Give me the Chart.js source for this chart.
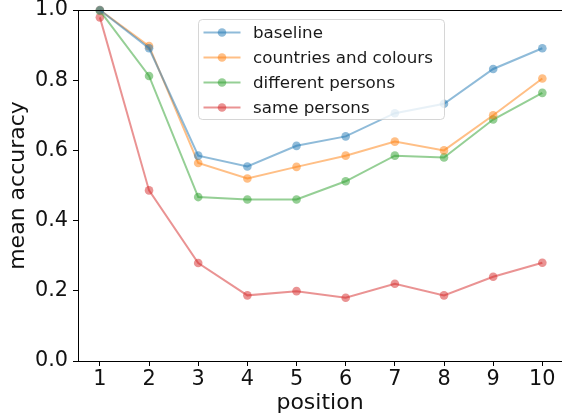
<!DOCTYPE html>
<html>
<head>
<meta charset="utf-8">
<script src="https://cdn.jsdelivr.net/npm/chart.js@4/dist/chart.umd.min.js"></script>
<style>
html,body{margin:0;padding:0;overflow:hidden;background:#fff;}
#wrap{width:562px;height:416px;position:relative;}
canvas{display:block;}
</style>
</head>
<body>
<div id="wrap"><canvas id="c" width="562" height="416"></canvas></div>
<script>
const positions = [1,2,3,4,5,6,7,8,9,10];
const seriesNames = ["baseline","countries and colours","different persons","same persons"];
const baseline = [1.0,0.891,0.585,0.554,0.613,0.640,0.706,0.733,0.832,0.891];
const countriesColours = [1.0,0.897,0.564,0.520,0.553,0.585,0.625,0.600,0.700,0.805];
const differentPersons = [0.998,0.812,0.467,0.460,0.460,0.512,0.585,0.580,0.688,0.764];
const samePersons = [0.979,0.486,0.279,0.187,0.199,0.180,0.220,0.187,0.240,0.280];
const yTicks = [0.0,0.2,0.4,0.6,0.8,1.0];
const colors = ["rgba(31,119,180,0.5)","rgba(255,127,14,0.5)","rgba(44,160,44,0.5)","rgba(214,39,40,0.5)"];

const FONT = "'DejaVu Sans', sans-serif";
const allSeries = [baseline,countriesColours,differentPersons,samePersons];
const datasets = allSeries.map((s,i)=>({
  label: seriesNames[i],
  data: positions.map((p,j)=>({x:p,y:s[j]})),
  borderColor: colors[i],
  backgroundColor: colors[i],
  pointBackgroundColor: colors[i],
  pointBorderColor: colors[i],
  pointBorderWidth: 0,
  pointRadius: 4.3,
  borderWidth: 2,
  tension: 0,
  clip: false
}));

const legendPlugin = {
  id:'mplLegend',
  afterDraw(chart){
    const ctx = chart.ctx;
    ctx.save();
    const ca = chart.chartArea;
    // hide anything along the right edge, then draw the top spine
    ctx.fillStyle = '#fff';
    ctx.fillRect(ca.right - 2, ca.top + 1, 2, ca.bottom - ca.top - 2);
    ctx.fillStyle = '#000';
    ctx.fillRect(ca.left, Math.round(ca.top), ca.right - ca.left, 1);
    const x0=198.5,y0=19.5,w=246,h=100,r=4;
    ctx.fillStyle='rgba(255,255,255,0.8)';
    ctx.strokeStyle='rgba(204,204,204,0.8)';
    ctx.lineWidth=1;
    ctx.beginPath();
    ctx.moveTo(x0+r,y0);ctx.lineTo(x0+w-r,y0);ctx.quadraticCurveTo(x0+w,y0,x0+w,y0+r);
    ctx.lineTo(x0+w,y0+h-r);ctx.quadraticCurveTo(x0+w,y0+h,x0+w-r,y0+h);
    ctx.lineTo(x0+r,y0+h);ctx.quadraticCurveTo(x0,y0+h,x0,y0+h-r);
    ctx.lineTo(x0,y0+r);ctx.quadraticCurveTo(x0,y0,x0+r,y0);
    ctx.closePath();ctx.fill();ctx.stroke();
    ctx.font = "16.7px " + FONT;
    ctx.textBaseline='middle';
    chart.data.datasets.forEach((ds,i)=>{
      const yy = 32.5 + i*25;
      ctx.strokeStyle=ds.borderColor; ctx.lineWidth=2;
      ctx.beginPath(); ctx.moveTo(203.5,yy); ctx.lineTo(240.5,yy); ctx.stroke();
      ctx.fillStyle=ds.borderColor;
      ctx.beginPath(); ctx.arc(222,yy,4.3,0,Math.PI*2); ctx.fill();
      ctx.fillStyle='#1a1a1a';
      ctx.fillText(ds.label,253,yy+1);
    });
    ctx.restore();
  }
};

new Chart(document.getElementById('c'),{
  type:'line',
  data:{datasets},
  plugins:[legendPlugin],
  options:{
    responsive:false,
    animation:false,
    layout:{autoPadding:false,padding:{top:10,right:0,left:0,bottom:0}},
    plugins:{legend:{display:false},tooltip:{enabled:false}},
    scales:{
      x:{
        type:'linear', min:0.555, max:10.40,
        afterBuildTicks(scale){ scale.ticks = positions.map(v=>({value:v})); },
        afterFit(scale){ scale.height = 55; scale.paddingLeft = 0; scale.paddingRight = 0; },
        grid:{display:true,drawOnChartArea:false,drawTicks:true,tickLength:5,color:'#000',tickWidth:1},
        border:{display:true,color:'#000',width:1},
        ticks:{color:'#111',font:{family:FONT,size:20.8},padding:1,maxRotation:0,autoSkip:false,
          callback:(v)=>String(v)},
        title:{display:true,text:'position',color:'#111',font:{family:FONT,size:22},padding:{top:0,bottom:0}}
      },
      y:{
        type:'linear', min:0, max:1,
        afterBuildTicks(scale){ scale.ticks = yTicks.map(v=>({value:v})); },
        afterFit(scale){ scale.width = 78; scale.paddingTop = 0; scale.paddingBottom = 0; },
        grid:{display:true,drawOnChartArea:false,drawTicks:true,tickLength:5,color:'#000',tickWidth:1},
        border:{display:true,color:'#000',width:1},
        ticks:{color:'#111',font:{family:FONT,size:20.8},padding:5,
          callback:(v)=>Number(v).toFixed(1)},
        title:{display:true,text:'mean accuracy',color:'#111',font:{family:FONT,size:22},padding:{top:5,bottom:0}}
      }
    }
  }
});
</script>
</body>
</html>
